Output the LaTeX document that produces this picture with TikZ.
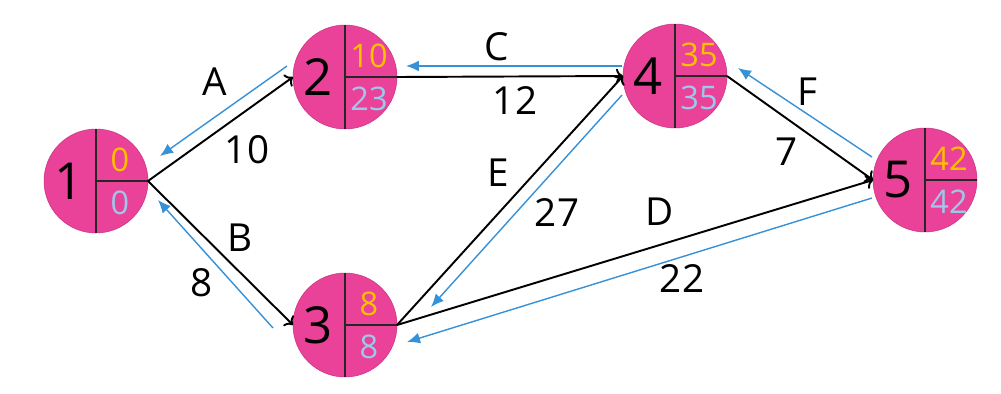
\documentclass[tikz,border=0pt]{standalone}
\usepackage{fontspec}
\setmainfont{Open Sans}
\definecolor{evpink}{RGB}{233,66,152}
\definecolor{evpinkdark}{RGB}{200,50,130}
\definecolor{early}{RGB}{255,192,0}
\definecolor{late}{RGB}{157,200,235}
\definecolor{back}{RGB}{55,145,215}
\usepackage{tikz}
\usetikzlibrary{arrows.meta}

% event circle: name, x, y, number, earliest, latest
\newcommand{\evnode}[6]{%
  \node[event] (#1) at (#2,#3) {};
  \draw[divider] (#1.north) -- (#1.south);
  \draw[divider] (#1.center) -- (#1.east);
  \node[evnum] (#1num) at ([shift={(-27,0)}]#1.center) {#4};
  \node[evval, text=early] (#1ear) at ([shift={(24,-21)}]#1.center) {#5};
  \node[evval, text=late] (#1lat) at ([shift={(24,22)}]#1.center) {#6};
}

\begin{document}
\begin{tikzpicture}[x=0.02cm, y=-0.02cm,
  event/.style={circle, fill=evpink, draw=evpinkdark, line width=0.3pt,
    minimum size=2.08cm, inner sep=0pt, outer sep=0pt},
  divider/.style={line width=0.9pt, black!85},
  evnum/.style={font=\fontsize{29}{31}\selectfont, inner sep=0pt},
  evval/.style={font=\fontsize{18.5}{21}\selectfont, inner sep=0pt},
  lbl/.style={font=\fontsize{22}{24}\selectfont, inner sep=0pt},
  fwd/.style={->, line width=1.1pt, black},
  bwd/.style={-{Latex[length=2.6mm,width=2.2mm]}, line width=0.8pt, back}]
  \useasboundingbox (0,0) rectangle (1001,393);
  %% 1. Events
  \evnode{n1}{96}{181}{1}{0}{0}
  \evnode{n2}{345}{77}{2}{10}{23}
  \evnode{n3}{345}{325}{3}{8}{8}
  \evnode{n4}{675}{76}{4}{35}{35}
  \evnode{n5}{925}{180}{5}{42}{42}
  %% 2. Activities (forward pass)
  \draw[fwd] (n1.east) -- (n2.west);
  \draw[fwd] (n1.east) -- (n3.west);
  \draw[fwd] (n2.east) -- (n4.west);
  \draw[fwd] (n3.east) -- (n4.west);
  \draw[fwd] (n3.east) -- (n5.west);
  \draw[fwd] (n4.east) -- (n5.west);
  %% 3. Backward pass
  \draw[bwd] ([shift={(-6,-11)}]n2.west) -- ([shift={(12,-25)}]n1.east);
  \draw[bwd] ([shift={(-20,3)}]n3.west) -- ([shift={(10,19)}]n1.east);
  \draw[bwd] ([shift={(-1,-10)}]n4.west) -- ([shift={(9,-11)}]n2.east);
  \draw[bwd] ([shift={(-1,19)}]n4.west) -- ([shift={(34,-18)}]n3.east);
  \draw[bwd] ([shift={(-1,18)}]n5.west) -- ([shift={(10,17)}]n3.east);
  \draw[bwd] ([shift={(-1,-23)}]n5.west) -- ([shift={(11,-8)}]n4.east);
  %% 4. Labels and durations
  \node[lbl] (lA) at (215,82) {A};
  \node[lbl] (dA) at (247,150) {10};
  \node[lbl] (lB) at (240,238) {B};
  \node[lbl] (dB) at (202,283) {8};
  \node[lbl] (lC) at (497,47) {C};
  \node[lbl] (dC) at (515,100) {12};
  \node[lbl] (lE) at (498,173) {E};
  \node[lbl] (dE) at (557,212) {27};
  \node[lbl] (lD) at (660,212) {D};
  \node[lbl] (dD) at (682,278) {22};
  \node[lbl] (lF) at (807,92) {F};
  \node[lbl] (dF) at (787,152) {7};
\end{tikzpicture}
\end{document}
